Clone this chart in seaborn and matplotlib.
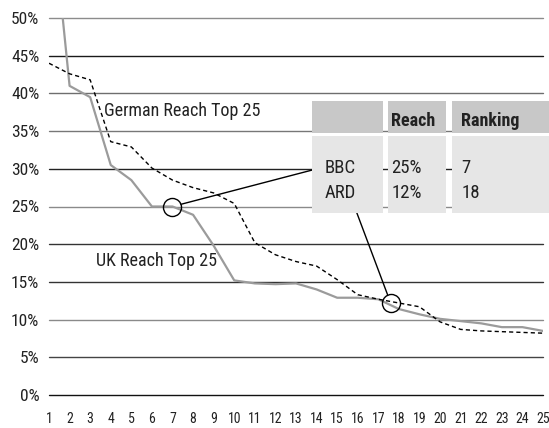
import matplotlib
matplotlib.use("Agg")
import matplotlib.pyplot as plt
from matplotlib import font_manager
from matplotlib.patches import Rectangle
import seaborn as sns
import pandas as pd

# ---------------- data ----------------
ranks = list(range(1, 26))
uk_reach = [68.0, 41.0, 39.5, 30.5, 28.5, 25.0, 25.0, 23.9, 19.8, 15.2,
            14.8, 14.7, 14.8, 14.0, 12.9, 12.9, 12.7, 11.4, 10.7, 10.1,
            9.8, 9.5, 9.0, 9.0, 8.5]
german_reach = [44.0, 42.6, 41.8, 33.6, 32.9, 30.1, 28.5, 27.5, 26.8, 25.4,
                20.2, 18.6, 17.7, 17.1, 15.3, 13.3, 12.7, 12.2, 11.7, 9.7,
                8.7, 8.5, 8.4, 8.3, 8.2]
yticks = [0, 5, 10, 15, 20, 25, 30, 35, 40, 45, 50]
ytick_labels = [f"{v}%" for v in yticks]
broadcasters = ["BBC", "ARD"]
bc_reach = ["25%", "12%"]
bc_ranking = ["7", "18"]
circle_x = [7.0, 17.6]
circle_y = [25.0, 12.2]
table_header = ["", "Reach", "Ranking"]
grid_colors = ["#111111", "#444444", "#8a8a8a", "#333333", "#333333", "#8a8a8a",
               "#222222", "#777777", "#6e6e6e", "#1a1a1a", "#8c8c8c"]

df = pd.DataFrame({"rank": ranks, "uk": uk_reach, "de": german_reach})

# ---------------- style ----------------
sns.set_style("white")
avail = {f.name for f in font_manager.fontManager.ttflist}
fam = [f for f in ["Liberation Sans Narrow", "Arial Narrow", "Roboto Condensed",
                   "Liberation Sans", "DejaVu Sans"] if f in avail]
plt.rcParams["font.family"] = fam

W, H = 549, 428
fig = plt.figure(figsize=(W / 100, H / 100), dpi=100)
ax = fig.add_axes([49 / W, (H - 395) / H, 494 / W, (395 - 18) / H])

for v, c in zip(yticks, grid_colors):
    ax.axhline(v, color=c, lw=1.0, zorder=1, clip_on=False)

sns.lineplot(data=df, x="rank", y="uk", ax=ax, color="#9b9b9b", lw=1.6, zorder=3)
sns.lineplot(data=df, x="rank", y="de", ax=ax, color="black", lw=1.0,
             linestyle=(0, (3, 2.2)), zorder=4)

ax.plot(circle_x, circle_y, "o", ms=13, mfc="none", mec="black", mew=1.0, zorder=6)

ax.set_xlim(1, 25)
ax.set_ylim(0, 50)
ax.set_xticks(ranks)
ax.set_xticklabels([str(r) for r in ranks], fontsize=10, color="#222222")
ax.set_yticks(yticks)
ax.set_yticklabels(ytick_labels, fontsize=12.5, color="#222222")
ax.tick_params(axis="x", length=0, pad=12)
ax.tick_params(axis="y", length=0, pad=7)
ax.set_xlabel("")
ax.set_ylabel("")
for s in ax.spines.values():
    s.set_visible(False)


def fx(px):
    return px / W


def fy(py):
    return 1 - py / H


# series labels
fig.text(fx(104), fy(116.5), "German Reach Top 25", fontsize=13, color="#222222", va="baseline")
fig.text(fx(96), fy(266.5), "UK Reach Top 25", fontsize=13, color="#222222", va="baseline")

# table boxes
cols = [(312, 383), (388, 446), (452, 549)]
for x0, x1 in cols:
    fig.patches.append(Rectangle((fx(x0), fy(133)), (x1 - x0) / W, 32 / H,
                                 transform=fig.transFigure, facecolor="#c8c8c8",
                                 edgecolor="none", zorder=5))
    fig.patches.append(Rectangle((fx(x0), fy(213)), (x1 - x0) / W, 77 / H,
                                 transform=fig.transFigure, facecolor="#e6e6e6",
                                 edgecolor="none", zorder=5))

text_x = [325, 391.5, 461.5]
for tx, head in zip(text_x, table_header):
    if head:
        fig.text(fx(tx), fy(126), head, fontsize=13, fontweight="bold",
                 color="#222222", va="baseline", zorder=7)
row_base = [172.7, 198.3]
for i, name in enumerate(broadcasters):
    fig.text(fx(text_x[0]), fy(row_base[i]), name, fontsize=13.5, color="#222222", va="baseline", zorder=7)
    fig.text(fx(text_x[1]), fy(row_base[i]), bc_reach[i], fontsize=13.5, color="#222222", va="baseline", zorder=7)
    fig.text(fx(text_x[2]), fy(row_base[i]), bc_ranking[i], fontsize=13.5, color="#222222", va="baseline", zorder=7)

# leader lines
leader_start = [(320, 168), (352, 200)]
for (cx, cy), (lx, ly) in zip(zip(circle_x, circle_y), leader_start):
    ax.annotate("", xy=(cx, cy), xycoords="data",
                xytext=(lx, H - ly), textcoords="figure pixels",
                arrowprops=dict(arrowstyle="-", color="black", lw=1.0,
                                shrinkA=0, shrinkB=6.5),
                zorder=8, annotation_clip=False)

fig.savefig("out.png", dpi=100)
